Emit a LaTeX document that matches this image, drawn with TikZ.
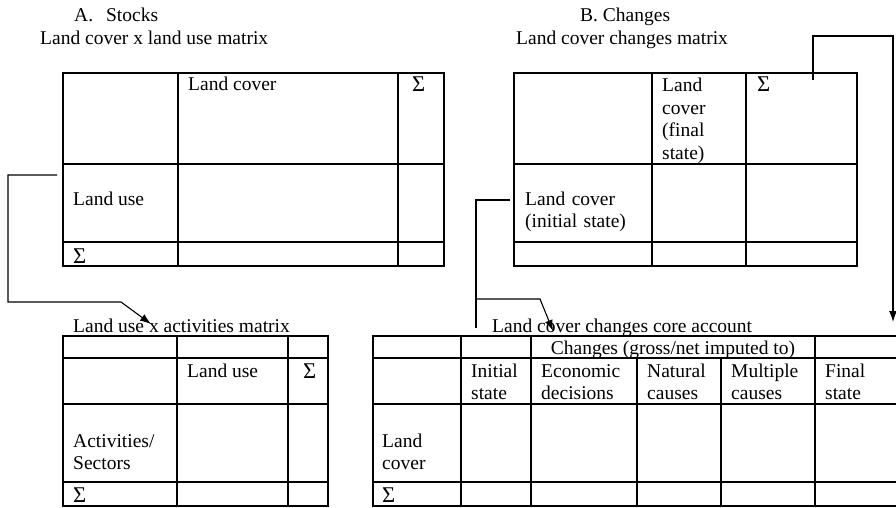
\documentclass[tikz,border=0pt]{standalone}
\usepackage{fontspec}
\setmainfont{Liberation Serif}
\usetikzlibrary{arrows.meta}
\newcommand{\sumsign}{{\fontsize{22.5}{22.5}\selectfont Σ}}
\tikzset{
  tabline/.style={line width=1.1pt},
  conn/.style={line width=1.1pt},
  lbl/.style={anchor=base west, inner sep=0pt,
    font=\fontsize{19.5}{22.5}\selectfont},
  lbls/.style={lbl, text width=#1, align=left}
}

\begin{document}
\begin{tikzpicture}[x=1pt,y=-1pt,>={Latex[length=11pt,width=8pt]}]
\useasboundingbox (0,0) rectangle (896,508);

% A. stocks
\node[lbl] (stkHead) at (74,22) {A.\hspace{13pt}Stocks};
\node[lbl] (stkTitle) at (40,45) {Land cover x land use matrix};
\draw[tabline] (63,73) rectangle (444,266);
\draw[tabline] (178,73) -- (178,266) (398,73) -- (398,266)
  (63,164) -- (444,164) (63,242) -- (444,242);
\node[lbl] (stkCover) at (188,91) {Land cover};
\node[lbl] (stkSumA) at (412,92) {\sumsign};
\node[lbl] (stkUse) at (73,205) {Land use};
\node[lbl] (stkSumB) at (73,263) {\sumsign};

% B. changes
\node[lbl] (chgHead) at (580,22) {B. Changes};
\node[lbl] (chgTitle) at (516,45) {Land cover changes matrix};
\draw[tabline] (514,73) rectangle (857,266);
\draw[tabline] (652,73) -- (652,266) (746,73) -- (746,266)
  (514,164) -- (857,164) (514,242) -- (857,242);
\node[lbls=80pt] (chgFinal) at (662,92) {Land\\cover\\(final\\state)};
\node[lbl] (chgSum) at (757,92) {\sumsign};
\node[lbls=130pt] (chgInit) at (525,205) {Land cover\\(initial state)};

% land use x activities
\node[lbl] (actTitle) at (73,332) {Land use x activities matrix};
\draw[tabline] (63,336) rectangle (328,506);
\draw[tabline] (177,336) -- (177,506) (288,336) -- (288,506)
  (63,358) -- (328,358) (63,404) -- (328,404) (63,482) -- (328,482);
\node[lbl] (actUse) at (187,377) {Land use};
\node[lbl] (actSumA) at (303,378) {\sumsign};
\node[lbls=100pt] (actRows) at (73,447) {Activities/\\Sectors};
\node[lbl] (actSumB) at (73,502) {\sumsign};

% core account
\node[lbl] (coreTitle) at (492,332) {Land cover changes core account};
\draw[tabline] (896,336) -- (373,336) -- (373,506) -- (896,506);
\draw[tabline] (461,336) -- (461,506) (531,336) -- (531,506)
  (637,358) -- (637,506) (721,358) -- (721,506) (815,336) -- (815,506)
  (373,358) -- (896,358) (373,404) -- (896,404) (373,482) -- (896,482);
\node[anchor=base, inner sep=0pt, font=\fontsize{19.5}{22.5}\selectfont]
  (coreChg) at (673,354) {Changes (gross/net imputed to)};
\node[lbls=60pt] (coreInit) at (471,377) {Initial\\state};
\node[lbls=95pt] (coreEcon) at (541,377) {Economic\\decisions};
\node[lbls=80pt] (coreNat) at (647,377) {Natural\\causes};
\node[lbls=90pt] (coreMult) at (731,377) {Multiple\\causes};
\node[lbls=70pt] (coreFinal) at (825,377) {Final\\state};
\node[lbls=60pt] (coreCover) at (382,447) {Land\\cover};
\node[lbl] (coreSum) at (382,502) {\sumsign};

% links
\coordinate (useOut) at (57,175);
\coordinate (useBend) at (121,302);
\coordinate (useIn) at (151,324);
\draw[conn,->] (useOut) -- ++(-49,0) |- (useBend) -- (useIn);

\coordinate (sumOut) at (813,80);
\coordinate (finalIn) at (893,322);
\draw[conn,->] (sumOut) -- ++(0,-44) -| (finalIn);

\coordinate (initOut) at (510,200);
\coordinate (initFoot) at (476,328);
\coordinate (initFork) at (476,299);
\coordinate (coreIn) at (553,331);
\draw[conn] (initOut) -| (initFoot);
\draw[conn,->] (initFork) -- ++(64,0) -- (coreIn);
\end{tikzpicture}
\end{document}
